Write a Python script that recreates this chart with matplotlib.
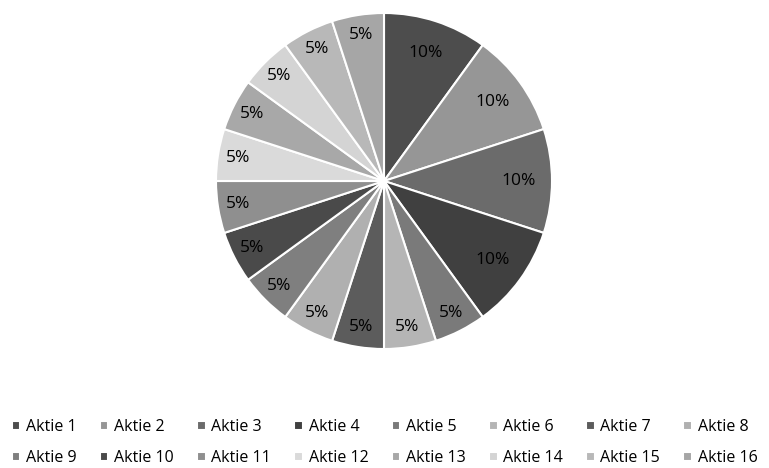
import matplotlib
matplotlib.use("Agg")
import numpy as np
import matplotlib.pyplot as plt

plt.rcParams['font.family'] = ['Open Sans', 'DejaVu Sans']

labels = ["Aktie %d" % i for i in range(1, 17)]
shares = [10, 10, 10, 10, 5, 5, 5, 5, 5, 5, 5, 5, 5, 5, 5, 5]
colors = ["#4d4d4d", "#969696", "#6b6b6b", "#404040", "#7a7a7a", "#b5b5b5",
          "#5c5c5c", "#b0b0b0", "#7f7f7f", "#4a4a4a", "#8f8f8f", "#dadada",
          "#a8a8a8", "#d4d4d4", "#b8b8b8", "#a6a6a6"]

fig = plt.figure(figsize=(7.69, 4.68), dpi=100)
ax = fig.add_axes([(384 - 168) / 769, (468 - 349) / 468, 336 / 769, 336 / 468])

wedges, texts, autotexts = ax.pie(
    shares, colors=colors, startangle=90, counterclock=False,
    autopct=lambda p: "%d%%" % round(p), pctdistance=0.8,
    wedgeprops=dict(edgecolor="white", linewidth=1.5),
    textprops=dict(fontsize=12.5, color="black"))
ax.set_aspect("equal")
ax.set_xlim(-1, 1)
ax.set_ylim(-1, 1)

# small slices have their labels pushed a bit further out, like Excel does
for w, t, s in zip(wedges, autotexts, shares):
    mid = np.deg2rad((w.theta1 + w.theta2) / 2)
    d = 0.8 if s >= 10 else 0.88
    t.set_position((d * np.cos(mid), d * np.sin(mid)))

# legend filled row by row (matplotlib fills columns first)
ncol = 8
order = []
for c in range(ncol):
    order += [c, c + ncol]
fig.legend([wedges[i] for i in order], [labels[i] for i in order],
           loc="center", bbox_to_anchor=(0.5, 0.054), ncol=ncol,
           frameon=False, fontsize=11.5, handlelength=0.55, handleheight=0.55,
           handletextpad=0.35, columnspacing=1.45, labelspacing=0.95)

fig.savefig("out.png", dpi=100)
